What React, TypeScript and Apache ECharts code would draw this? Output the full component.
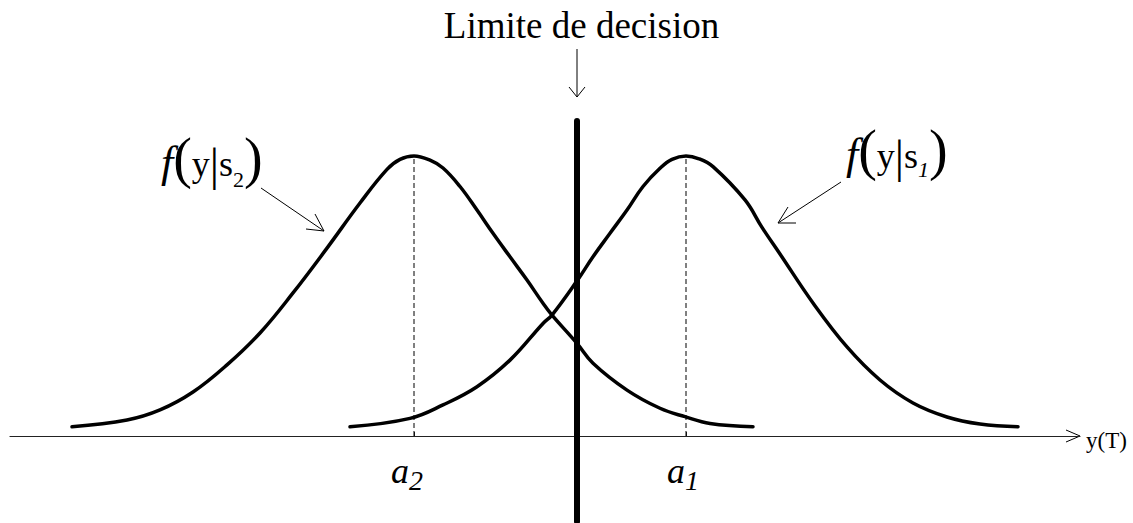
import React, { useEffect, useRef } from "react";
import * as echarts from "echarts";

// Horizontal axis: y(T), arbitrary units; vertical: relative density (peak = 1)
const leftCurveX = [-4.78, -4.23, -3.9, -3.57, -3.23, -2.9, -2.57, -2.23, -1.9, -1.63, -1.5, -1.36, -1.2, -1.07, -0.9, -0.73, -0.57, -0.4, -0.23, -0.07, 0.02, 0.27, 0.43, 0.77, 1.1, 1.35, 1.6, 2.03];
const leftCurveY = [0.033, 0.057, 0.093, 0.157, 0.254, 0.368, 0.511, 0.671, 0.832, 0.952, 0.988, 1.0, 0.985, 0.957, 0.891, 0.807, 0.724, 0.64, 0.557, 0.474, 0.432, 0.331, 0.26, 0.164, 0.099, 0.069, 0.045, 0.033];
const rightCurveX = [-2.0, -1.4, -1.07, -0.73, -0.4, -0.07, 0.02, 0.27, 0.43, 0.6, 0.77, 0.93, 1.1, 1.22, 1.36, 1.49, 1.63, 1.95, 2.12, 2.3, 2.63, 2.97, 3.3, 3.63, 3.97, 4.3, 4.68];
const rightCurveY = [0.033, 0.063, 0.111, 0.176, 0.271, 0.402, 0.432, 0.554, 0.64, 0.724, 0.807, 0.891, 0.956, 0.988, 1.0, 0.99, 0.962, 0.843, 0.745, 0.65, 0.475, 0.318, 0.2, 0.118, 0.068, 0.043, 0.033];
const means = [-1.36, 1.36]; // a2, a1
const meanPeak = [1.0, 1.0];
const decisionX = 0.27;
const decisionSpan = [-0.305, 1.125];
const xRange = [-5.4, 5.3];
const titleText = "Limite de decision";
const axisName = "y(T)";
const meanLabels = ["{a|a}{sub|2}", "{a|a}{sub|1}"];
const densityLabels = ["{f|f}{p|(}{y|y}{b||}{s|s}{sub|2}{p|)}", "{f|f}{p|(}{y|y}{b||}{s|s}{subi|1}{p|)}"];

const SERIF = "'Liberation Serif', 'Times New Roman', serif";
const K = 0.3375; // central-to-baseline offset (em)
const C = 20; // baseline distance above line bottom
// rich token, bottom aligned, raised by padding so that baselines line up (drop lowers it)
function tok(size: number, italic: boolean, drop = 0) {
  const pb = Math.max(0, C - drop - (0.5 - K) * size);
  return {
    fontFamily: SERIF,
    fontSize: size,
    fontStyle: italic ? "italic" : "normal",
    color: "#000",
    verticalAlign: "bottom",
    padding: [0, 0, pb, 0],
    _h: size + pb,
  };
}
function richText(text: string, x: number, baseline: number, rich: Record<string, any>) {
  let lh = 0;
  const clean: Record<string, any> = {};
  Object.keys(rich).forEach((k) => {
    const { _h, ...rest } = rich[k];
    lh = Math.max(lh, _h);
    clean[k] = rest;
  });
  return {
    type: "text",
    x,
    y: baseline - (lh - C),
    silent: true,
    style: { text, rich: clean, align: "left", verticalAlign: "top", fill: "#000" },
  };
}
function txt(text: string, x: number, baseline: number, size: number, align = "center") {
  return {
    type: "text",
    x,
    y: baseline - K * size,
    silent: true,
    style: { text, fill: "#000", font: `${size}px ${SERIF}`, textAlign: align, verticalAlign: "middle" },
  };
}
function seg(points: number[][], w = 1) {
  return {
    type: "polyline",
    silent: true,
    shape: { points },
    style: { stroke: "#000", lineWidth: w, fill: null },
  };
}

const densRich = {
  f: tok(44, true, 1),
  p: tok(56, false, 1),
  y: tok(36, false),
  b: tok(46, false, 4),
  s: tok(36, false),
  sub: tok(22, false, 11),
  subi: tok(22, true, 9),
};
const meanRich = { a: tok(36, true), sub: tok(28, true, 7) };

export default function App() {
  const ref = useRef<HTMLDivElement>(null);
  useEffect(() => {
    if (!ref.current) return;
    const chart = echarts.init(ref.current, null, { renderer: "svg" });
    const curve = (xs: number[], ys: number[]) => ({
      type: "line",
      data: xs.map((x, i) => [x, ys[i]]),
      smooth: 0.4,
      symbol: "none",
      clip: false,
      lineStyle: { color: "#000", width: 3.5, cap: "round" },
      z: 3,
    });
    const dashed = (x: number, top: number) => ({
      type: "line",
      data: [[x, 0], [x, top]],
      symbol: "none",
      clip: false,
      lineStyle: { color: "#000", width: 1, type: [5, 3] },
      z: 2,
    });
    chart.setOption({
      animation: false,
      backgroundColor: "#fff",
      grid: { left: 10, right: 53, top: 156, bottom: 87 },
      xAxis: {
        type: "value",
        min: xRange[0],
        max: xRange[1],
        axisLine: { show: true, lineStyle: { color: "#222", width: 1.2 } },
        axisTick: { show: true, inside: true, length: 4, customValues: means, lineStyle: { color: "#222" } },
        axisLabel: { show: false },
        splitLine: { show: false },
      },
      yAxis: { type: "value", min: 0, max: 1, show: false },
      series: [
        curve(leftCurveX, leftCurveY),
        curve(rightCurveX, rightCurveY),
        dashed(means[0], meanPeak[0]),
        dashed(means[1], meanPeak[1]),
        {
          type: "line",
          data: [[decisionX, decisionSpan[0]], [decisionX, decisionSpan[1]]],
          symbol: "none",
          clip: false,
          lineStyle: { color: "#000", width: 6, cap: "round" },
          z: 4,
        },
      ],
      graphic: [
        // title + arrow
        txt(titleText, 581.5, 38, 37),
        seg([[577, 49], [577, 97]]),
        seg([[569, 87], [577, 97], [585, 87]]),
        // axis arrow + name
        seg([[1066, 430], [1080, 436], [1066, 442]]),
        txt(axisName, 1086, 448, 23, "left"),
        // a2, a1
        richText(meanLabels[0], 391, 483, meanRich),
        richText(meanLabels[1], 667, 483, meanRich),
        // f(y|s2)
        richText(densityLabels[0], 161, 176, densRich),
        seg([[261, 188], [324, 231]]),
        seg([[306, 229], [324, 231], [315, 214]]),
        // f(y|s1)
        richText(densityLabels[1], 846, 168, densRich),
        seg([[841, 182], [778, 223]]),
        seg([[796, 223], [778, 223], [788, 207]]),
      ],
    });
    return () => chart.dispose();
  }, []);
  return <div ref={ref} style={{ position: "fixed", left: 0, top: 0, width: 1133, height: 523 }} />;
}
